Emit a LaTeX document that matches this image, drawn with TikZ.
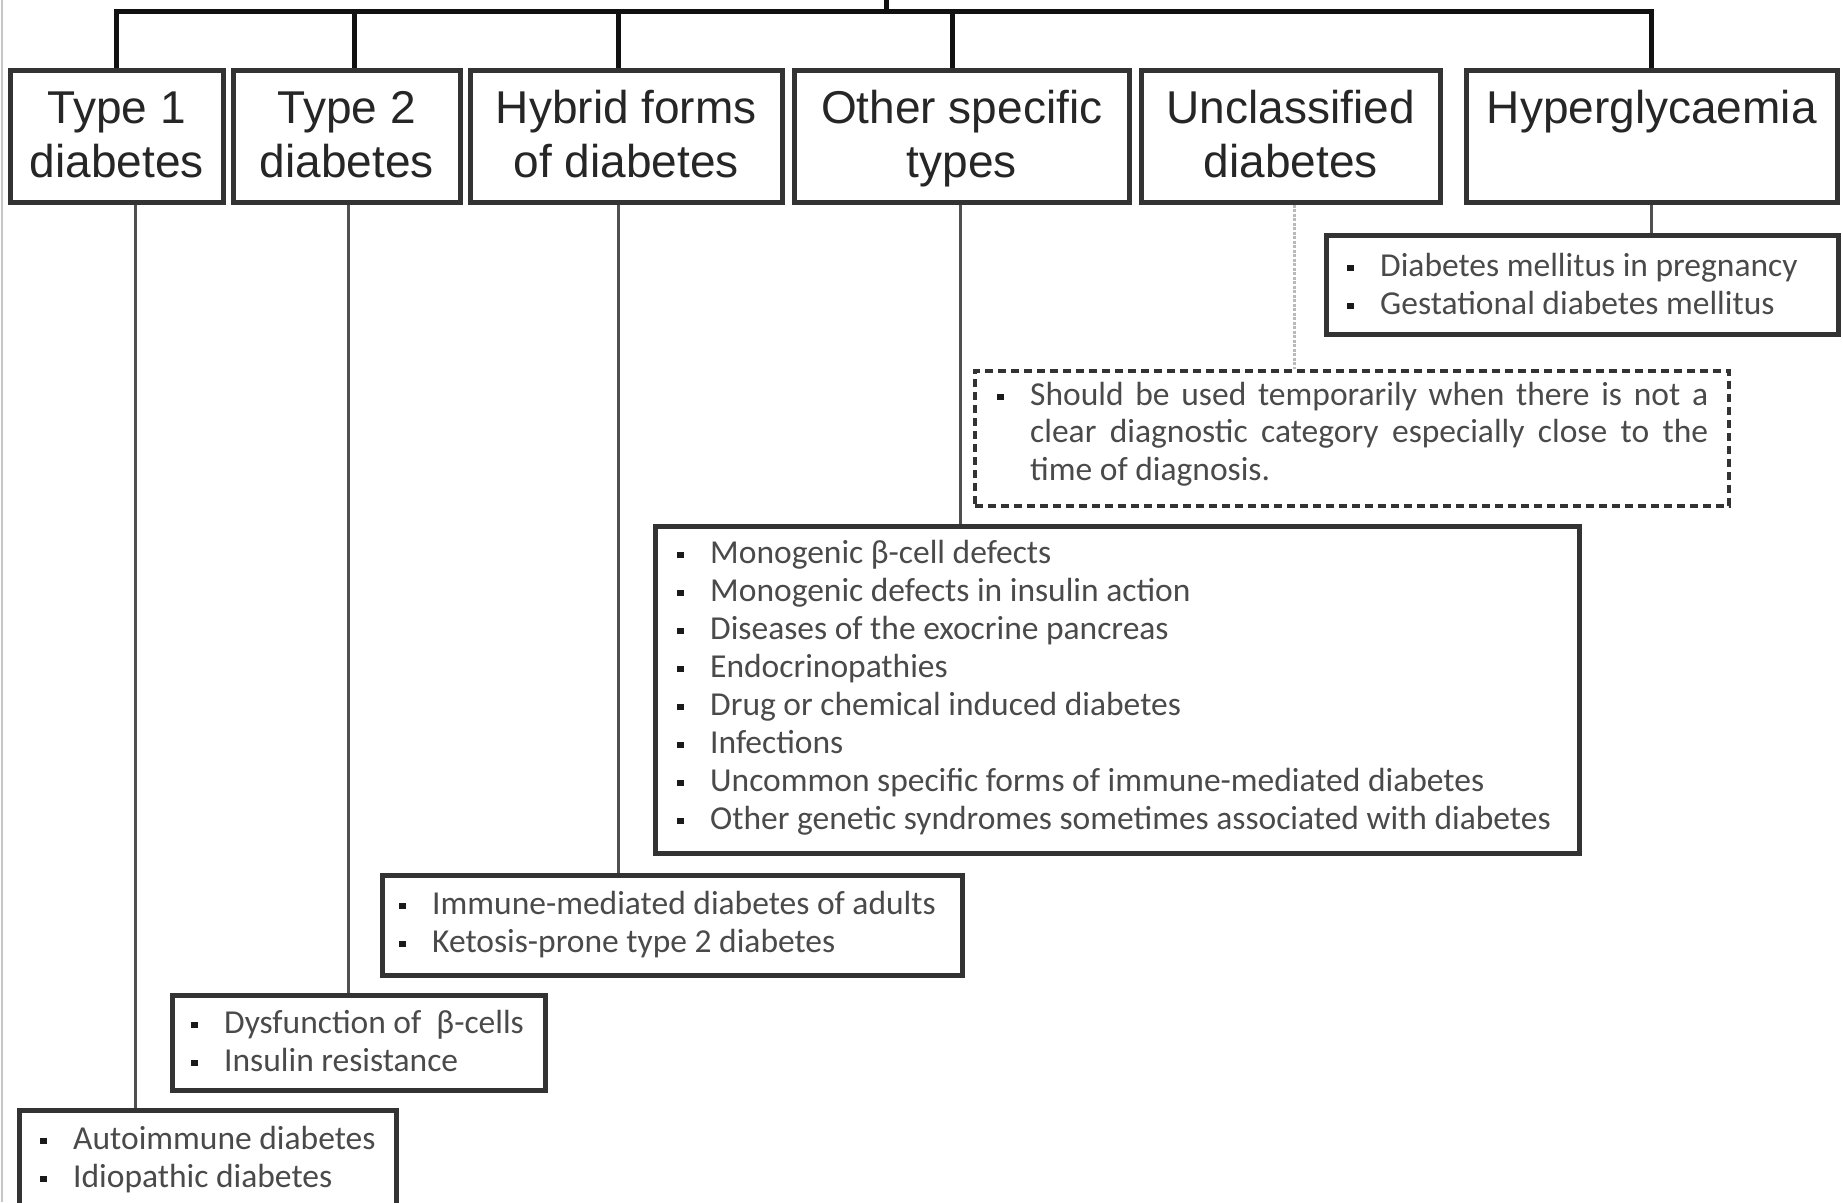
\documentclass[tikz,border=0pt]{standalone}
\usepackage{fontspec}
\setmainfont{Liberation Sans}
\newfontfamily\carl{Carlito}
\usetikzlibrary{calc}
\definecolor{boxc}{HTML}{333333}
\definecolor{barc}{HTML}{111111}
\definecolor{linec}{HTML}{505050}
\definecolor{toptc}{HTML}{262626}
\definecolor{subtc}{HTML}{4A4A4A}
\definecolor{bulc}{HTML}{1A1A1A}
\newcommand{\bul}{\llap{\textcolor{bulc}{\raisebox{5pt}{\rule{6.5pt}{6.5pt}}}\hspace{26.5pt}}}
\begin{document}
\begin{tikzpicture}[x=1pt,y=-1pt,
  box/.style={draw=boxc, line width=4.5pt, inner sep=0pt, anchor=north west, fill=white},
  dbox/.style={draw=boxc, line width=4pt, inner sep=0pt, anchor=north west, dash pattern=on 8pt off 5pt},
  toptxt/.style={anchor=base, inner sep=0pt, text=toptc, font=\fontsize{46}{54}\selectfont},
  subtxt/.style={anchor=base west, inner sep=0pt, text=subtc, font=\carl\fontsize{33.5}{38}\selectfont},
  barline/.style={draw=barc, line width=5pt},
  down/.style={draw=linec, line width=3pt},
  dotl/.style={draw=gray!55, line width=3pt, dash pattern=on 3pt off 1.5pt}]
\clip (0,0) rectangle (1843,1202);
\fill[white] (0,0) rectangle (1843,1202);
\draw[gray!45, line width=2pt] (1.5,0) -- (1.5,1202);
\renewcommand{\arraystretch}{1}

% top row boxes
\node[box, minimum width=213pt, minimum height=132pt] (t1) at (8,68) {};
\node[box, minimum width=227pt, minimum height=132pt] (t2) at (231,68) {};
\node[box, minimum width=312pt, minimum height=132pt] (hf) at (468,68) {};
\node[box, minimum width=335pt, minimum height=132pt] (os) at (792,68) {};
\node[box, minimum width=299pt, minimum height=132pt] (uc) at (1139,68) {};
\node[box, minimum width=371pt, minimum height=132pt] (hy) at (1464,68) {};

\node[toptxt] (t1l) at ([yshift=-55pt]t1.north) {\begin{tabular}[t]{@{}c@{}}Type 1\\diabetes\end{tabular}};
\node[toptxt] (t2l) at ([yshift=-55pt]t2.north) {\begin{tabular}[t]{@{}c@{}}Type 2\\diabetes\end{tabular}};
\node[toptxt] (hfl) at ([yshift=-55pt]hf.north) {\begin{tabular}[t]{@{}c@{}}Hybrid forms\\of diabetes\end{tabular}};
\node[toptxt] (osl) at ([yshift=-55pt]os.north) {\begin{tabular}[t]{@{}c@{}}Other specific\\types\end{tabular}};
\node[toptxt] (ucl) at ([yshift=-55pt]uc.north) {\begin{tabular}[t]{@{}c@{}}Unclassified\\diabetes\end{tabular}};
\node[toptxt] (hyl) at ([yshift=-55pt]hy.north) {Hyperglycaemia};

% top bar
\coordinate (root) at (886,0);
\coordinate (bar) at (886,11);
\draw[barline] (root) -- (bar);
\draw[barline, line cap=rect] (t1.north |- bar) -- (hy.north |- bar);
\draw[barline] (t1.north |- bar) -- (t1.north);
\draw[barline] ([xshift=7.5pt]t2.north |- bar) -- ([xshift=7.5pt]t2.north);
\draw[barline] ([xshift=-8pt]hf.north |- bar) -- ([xshift=-8pt]hf.north);
\draw[barline] ([xshift=-9pt]os.north |- bar) -- ([xshift=-9pt]os.north);
\draw[barline] (hy.north |- bar) -- (hy.north);

% sub boxes
\node[box, minimum width=377pt, minimum height=130pt] (s1) at (17,1108) {};
\node[box, minimum width=373pt, minimum height=95pt] (s2) at (170,993) {};
\node[box, minimum width=580pt, minimum height=100pt] (s3) at (380,873) {};
\node[box, minimum width=924pt, minimum height=327pt] (s4) at (653,524) {};
\node[dbox, minimum width=754pt, minimum height=135pt] (s5) at (973,369) {};
\node[box, minimum width=512pt, minimum height=99pt] (s6) at (1324,233) {};

% connectors down
\draw[down] ([xshift=18.5pt]t1.south) -- ([xshift=18.5pt]t1.south |- s1.north);
\draw[down] ([xshift=1.5pt]t2.south) -- ([xshift=1.5pt]t2.south |- s2.north);
\draw[down] ([xshift=-8pt]hf.south) -- ([xshift=-8pt]hf.south |- s3.north);
\draw[down] ([xshift=-1.5pt]os.south) -- ([xshift=-1.5pt]os.south |- s4.north);
\draw[dotl] ([xshift=3.5pt]uc.south) -- ([xshift=3.5pt]uc.south |- s5.north);
\draw[down] (hy.south) -- (hy.south |- s6.north);

% sub texts
\node[subtxt] (s1t) at (73,1149) {\begin{tabular}[t]{@{}l@{}}\bul Autoimmune diabetes\\\bul Idiopathic diabetes\end{tabular}};
\node[subtxt] (s2t) at (224,1033) {\begin{tabular}[t]{@{}l@{}}\bul Dysfunction of\ \ β-cells\\\bul Insulin resistance\end{tabular}};
\node[subtxt] (s3t) at (432,914) {\begin{tabular}[t]{@{}l@{}}\bul Immune-mediated diabetes of adults\\\bul Ketosis-prone type 2 diabetes\end{tabular}};
\node[subtxt] (s4t) at (710,563) {\begin{tabular}[t]{@{}l@{}}\bul Monogenic β-cell defects\\\bul Monogenic defects in insulin action\\\bul Diseases of the exocrine pancreas\\\bul Endocrinopathies\\\bul Drug or chemical induced diabetes\\\bul Infections\\\bul Uncommon specific forms of immune-mediated diabetes\\\bul Other genetic syndromes sometimes associated with diabetes\end{tabular}};
\node[subtxt] (s5t) at (1030,405) {\fontsize{33.5}{37.5}\selectfont\parbox[t]{678pt}{\noindent\bul Should be used temporarily when there is not a\linebreak clear diagnostic category especially close to the\linebreak time of diagnosis.}};
\node[subtxt] (s6t) at (1380,276) {\begin{tabular}[t]{@{}l@{}}\bul Diabetes mellitus in pregnancy\\\bul Gestational diabetes mellitus\end{tabular}};
\end{tikzpicture}
\end{document}
